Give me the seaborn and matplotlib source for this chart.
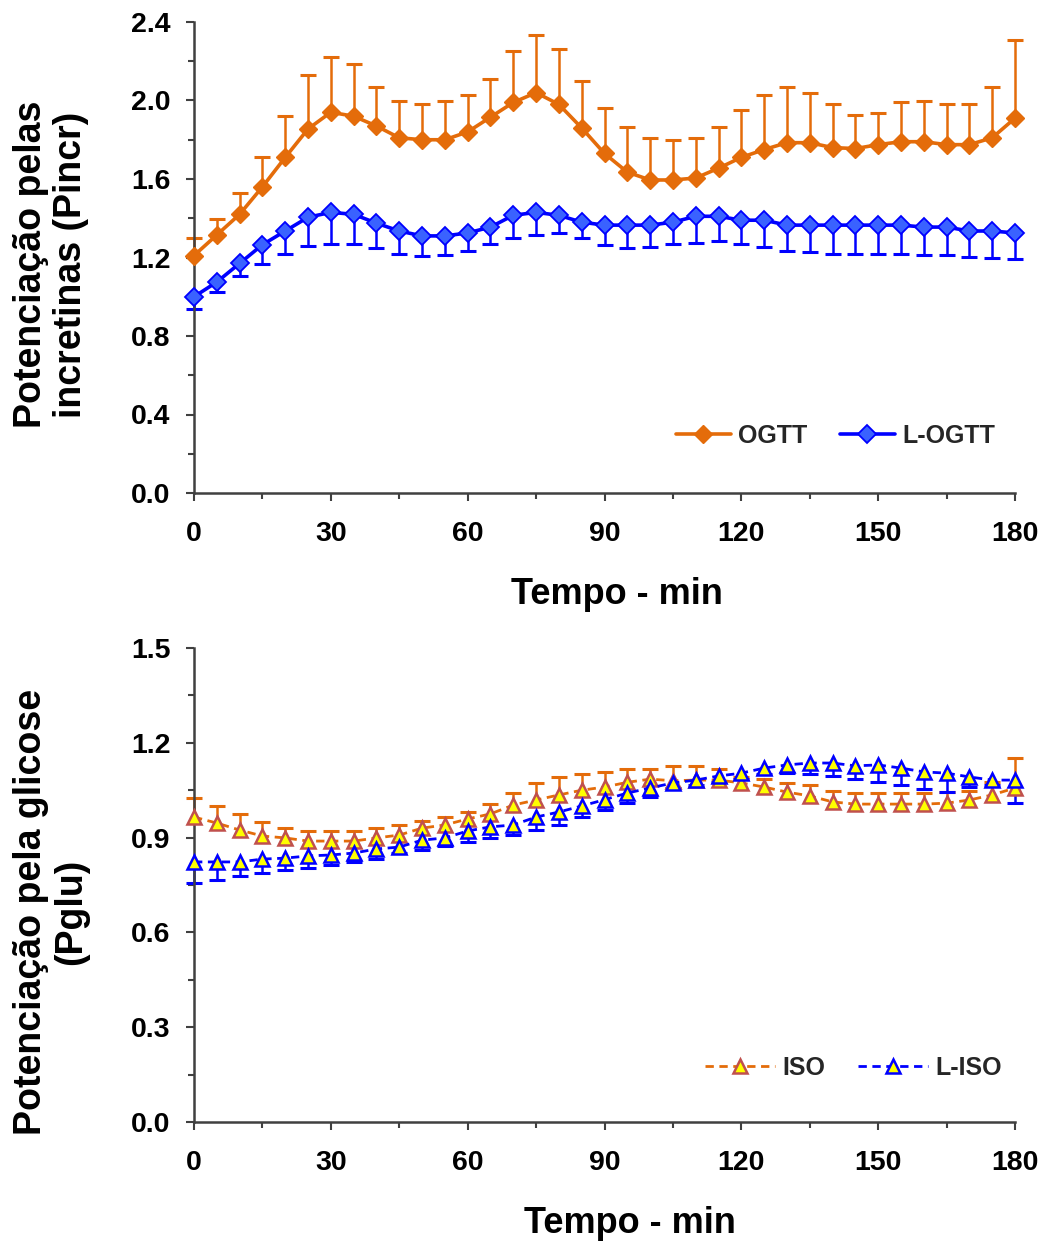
import numpy as np
import pandas as pd
import matplotlib
matplotlib.use("Agg")
import matplotlib.pyplot as plt
from matplotlib.ticker import MultipleLocator, FormatStrFormatter
import seaborn as sns

# ---------------- data ----------------
time_min = list(range(0, 181, 5))

ogtt_mean = [1.21, 1.315, 1.42, 1.56, 1.71, 1.855, 1.94, 1.92, 1.87, 1.81, 1.80, 1.80, 1.84,
             1.915, 1.99, 2.04, 1.98, 1.86, 1.73, 1.635, 1.595, 1.595, 1.605, 1.655, 1.71,
             1.75, 1.785, 1.785, 1.76, 1.755, 1.775, 1.79, 1.79, 1.775, 1.775, 1.81, 1.91]
ogtt_sem = [0.09, 0.08, 0.11, 0.15, 0.21, 0.275, 0.28, 0.265, 0.20, 0.19, 0.18, 0.20, 0.19,
            0.195, 0.26, 0.295, 0.28, 0.24, 0.23, 0.23, 0.215, 0.205, 0.205, 0.21, 0.24,
            0.28, 0.285, 0.255, 0.22, 0.17, 0.16, 0.20, 0.21, 0.205, 0.205, 0.26, 0.40]

logtt_mean = [1.00, 1.075, 1.17, 1.265, 1.335, 1.405, 1.43, 1.42, 1.375, 1.335, 1.31, 1.31, 1.325,
              1.355, 1.415, 1.43, 1.415, 1.38, 1.365, 1.365, 1.365, 1.38, 1.41, 1.41, 1.39,
              1.39, 1.365, 1.365, 1.365, 1.365, 1.365, 1.365, 1.355, 1.355, 1.335, 1.335, 1.325]
logtt_sem = [0.06, 0.05, 0.065, 0.10, 0.115, 0.145, 0.16, 0.15, 0.125, 0.115, 0.10, 0.095, 0.09,
             0.085, 0.115, 0.115, 0.09, 0.08, 0.10, 0.115, 0.11, 0.11, 0.135, 0.125, 0.12,
             0.135, 0.13, 0.135, 0.145, 0.145, 0.145, 0.145, 0.14, 0.14, 0.13, 0.14, 0.135]

iso_mean = [0.965, 0.946, 0.924, 0.905, 0.899, 0.889, 0.889, 0.889, 0.899, 0.908, 0.93, 0.94, 0.959,
            0.975, 1.003, 1.019, 1.035, 1.05, 1.06, 1.075, 1.085, 1.08, 1.082, 1.082, 1.073,
            1.06, 1.044, 1.032, 1.013, 1.006, 1.006, 1.006, 1.006, 1.009, 1.019, 1.035, 1.057]
iso_sem = [0.06, 0.054, 0.051, 0.044, 0.031, 0.032, 0.032, 0.032, 0.031, 0.032, 0.022, 0.025, 0.022,
           0.031, 0.038, 0.054, 0.057, 0.05, 0.048, 0.042, 0.032, 0.047, 0.045, 0.035, 0.02,
           0.025, 0.029, 0.034, 0.034, 0.035, 0.035, 0.035, 0.035, 0.035, 0.03, 0.04, 0.095]

liso_mean = [0.823, 0.823, 0.823, 0.832, 0.835, 0.842, 0.845, 0.851, 0.864, 0.870, 0.892, 0.899, 0.921,
             0.934, 0.940, 0.965, 0.981, 1.0, 1.02, 1.041, 1.057, 1.073, 1.082, 1.095, 1.104,
             1.12, 1.13, 1.136, 1.136, 1.127, 1.13, 1.12, 1.108, 1.104, 1.092, 1.082, 1.082]
liso_sem = [0.067, 0.057, 0.045, 0.044, 0.038, 0.038, 0.032, 0.028, 0.032, 0.019, 0.031, 0.026, 0.035,
            0.035, 0.032, 0.041, 0.041, 0.035, 0.033, 0.032, 0.029, 0.015, 0.015, 0.02, 0.02,
            0.02, 0.025, 0.035, 0.041, 0.042, 0.054, 0.054, 0.054, 0.06, 0.032, 0.015, 0.073]

top_labels = ["OGTT", "L-OGTT"]
bottom_labels = ["ISO", "L-ISO"]
xlabel = "Tempo - min"
ylabel_top = "Potenciação pelas\nincretinas (Pincr)"
ylabel_bottom = "Potenciação pela glicose\n(Pglu)"

# ---------------- style ----------------
sns.set_theme(style="ticks")
plt.rcParams["font.family"] = ["Liberation Sans", "DejaVu Sans"]
plt.rcParams["font.weight"] = "bold"

ORANGE = "#E46C0A"
BLUE = "#0000FF"
BLUE_FILL = "#3A62FF"
YELLOW = "#FFFF00"
ISO_EDGE = "#C0504D"
AXIS = "#404040"

fig = plt.figure(figsize=(10.48, 12.41), dpi=100)
ax1 = fig.add_axes([194 / 1048, 1 - 493 / 1241, 821 / 1048, 471 / 1241])
ax2 = fig.add_axes([194 / 1048, 1 - 1122 / 1241, 821 / 1048, 474 / 1241])


def errbars(ax, t, mean, sem, color, up=True, z=2):
    t = np.asarray(t, float)
    m = np.asarray(mean, float)
    s = np.asarray(sem, float)
    end = m + s if up else m - s
    ax.vlines(t, m, end, colors=color, linewidth=1.8, zorder=z, clip_on=False)
    ax.plot(t, end, linestyle="none", marker="_", markersize=12, markeredgewidth=2.2,
            color=color, zorder=z, clip_on=False)


def series(ax, t, mean, label, color, marker, ms, mfc, mec, mew, ls, lw, z):
    df = pd.DataFrame({"t": t, "v": mean})
    sns.lineplot(data=df, x="t", y="v", ax=ax, color=color, linewidth=lw, linestyle=ls,
                 marker=marker, markersize=ms, markerfacecolor=mfc, markeredgecolor=mec,
                 markeredgewidth=mew, label=label, zorder=z)
    line = ax.lines[-1]
    line.set_clip_on(False)
    return line


# ---- top panel ----
errbars(ax1, time_min, ogtt_mean, ogtt_sem, ORANGE, up=True, z=2)
errbars(ax1, time_min, logtt_mean, logtt_sem, BLUE, up=False, z=2)
h1 = series(ax1, time_min, ogtt_mean, top_labels[0], ORANGE, "D", 9.5, ORANGE, ORANGE, 1.0, "-", 2.6, 4)
h2 = series(ax1, time_min, logtt_mean, top_labels[1], BLUE, "D", 9.5, BLUE_FILL, BLUE, 1.3, "-", 2.6, 4)

# ---- bottom panel ----
errbars(ax2, time_min, iso_mean, iso_sem, ORANGE, up=True, z=2)
errbars(ax2, time_min, liso_mean, liso_sem, BLUE, up=False, z=2)
h3 = series(ax2, time_min, iso_mean, bottom_labels[0], ORANGE, "^", 10.5, YELLOW, ISO_EDGE, 1.8, (0, (3, 2)), 2.0, 4)
h4 = series(ax2, time_min, liso_mean, bottom_labels[1], BLUE, "^", 10.5, YELLOW, BLUE, 1.8, (0, (3, 2)), 2.0, 5)

for ax, ylim, major, minor in [(ax1, (0, 2.4), 0.4, 0.2), (ax2, (0, 1.5), 0.3, 0.15)]:
    ax.set_xlim(0, 180)
    ax.set_ylim(*ylim)
    ax.xaxis.set_major_locator(MultipleLocator(30))
    ax.xaxis.set_minor_locator(MultipleLocator(15))
    ax.yaxis.set_major_locator(MultipleLocator(major))
    ax.yaxis.set_minor_locator(MultipleLocator(minor))
    ax.yaxis.set_major_formatter(FormatStrFormatter("%.1f"))
    ax.set_facecolor("white")
    for s in ["top", "right"]:
        ax.spines[s].set_visible(False)
    for s in ["left", "bottom"]:
        ax.spines[s].set_color(AXIS)
        ax.spines[s].set_linewidth(1.8)
    ax.tick_params(axis="both", which="major", direction="out", length=6, width=1.5,
                   color=AXIS, labelsize=20.5, labelcolor="black")
    ax.tick_params(axis="x", which="major", pad=14)
    ax.tick_params(axis="y", which="major", pad=11)
    ax.tick_params(axis="both", which="minor", direction="out", length=4.5, width=1.5, color=AXIS)
    for lab in ax.get_xticklabels() + ax.get_yticklabels():
        lab.set_fontweight("bold")
    ax.set_xlabel(xlabel, fontsize=26, fontweight="bold", labelpad=22, color="black")
    ax.grid(False)

ax1.set_ylabel(ylabel_top, fontsize=27, fontweight="bold", color="black", linespacing=1.15)
ax2.set_ylabel(ylabel_bottom, fontsize=27, fontweight="bold", color="black", linespacing=1.15)
ax1.yaxis.set_label_coords(-0.128, 0.485)
ax2.yaxis.set_label_coords(-0.128, 0.443)
ax1.xaxis.label.set_x(0.515)
ax2.xaxis.label.set_x(0.531)

leg_kw = dict(frameon=False, ncol=2, prop={"weight": "bold", "size": 18},
              handletextpad=0.3, columnspacing=1.3, borderaxespad=0, numpoints=1)
ax1.legend(handles=[h1, h2], labels=top_labels, loc="center right",
           bbox_to_anchor=(0.988, 0.121), handlelength=2.2, **leg_kw)
ax2.legend(handles=[h3, h4], labels=bottom_labels, loc="center right",
           bbox_to_anchor=(0.996, 0.114), handlelength=2.8, **leg_kw)

fig.savefig("out.png", dpi=100, facecolor="white")
